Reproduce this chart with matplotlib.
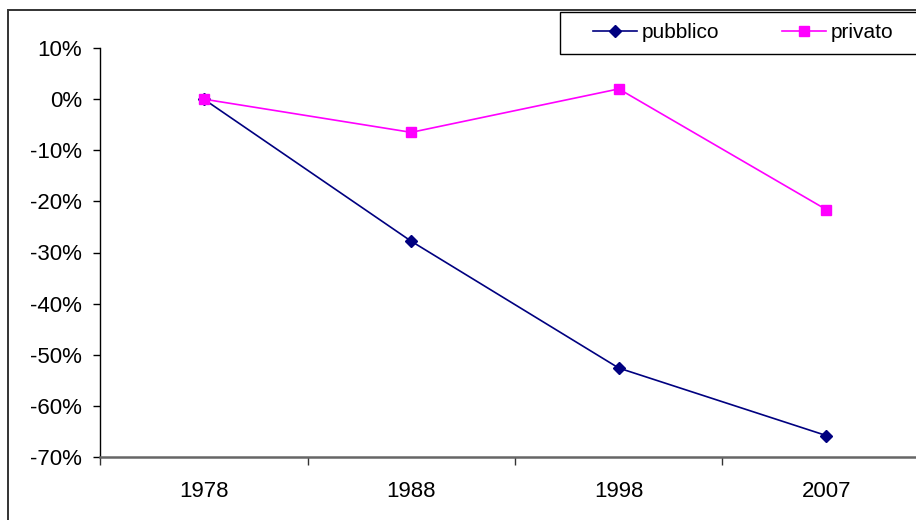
import numpy as np
import matplotlib.pyplot as plt
from matplotlib.patches import Rectangle

# Dati (variazione percentuale rispetto al 1978)
anni = ["1978", "1988", "1998", "2007"]
pubblico = [0.0, -27.8, -52.6, -65.8]
privato = [0.0, -6.5, 2.0, -21.6]

plt.rcParams['font.family'] = ['Liberation Sans', 'DejaVu Sans']

W, H = 916, 520
fig = plt.figure(figsize=(W / 100, H / 100), dpi=100)

# cornice esterna dell'area del grafico (esce dal bordo a destra e in basso)
fig.patches.append(Rectangle((8 / W, -0.1), 1.2, 1.1 - 10 / H, transform=fig.transFigure,
                             fill=False, edgecolor='#333333', linewidth=1.4, clip_on=False))

ax = fig.add_axes([100 / W, (H - 457) / H, 830 / W, (457 - 48) / H])

x = np.arange(len(anni)) + 0.5
ax.plot(x, pubblico, color='#000080', linewidth=1.2, marker='D', markersize=6,
        label='pubblico', clip_on=False)
ax.plot(x, privato, color='#FF00FF', linewidth=1.2, marker='s', markersize=6.5,
        label='privato', clip_on=False)

ax.set_xlim(0, len(anni))
ax.set_ylim(-70, 10)
ax.set_yticks(np.arange(-70, 11, 10))
ax.set_yticklabels([f"{v}%" for v in range(-70, 11, 10)])
ax.set_xticks(np.arange(len(anni) + 1))
ax.set_xticklabels([])
ax.set_xticks(x, minor=True)
ax.set_xticklabels(anni, minor=True)

ax.tick_params(axis='y', length=5, width=1, labelsize=16, pad=8, color='black')
ax.tick_params(axis='x', which='major', direction='out', length=6, width=1, color='#333333')
ax.tick_params(axis='x', which='minor', length=0, labelsize=16, pad=17)

for s in ['top', 'right']:
    ax.spines[s].set_visible(False)
ax.spines['left'].set_color('black')
ax.spines['left'].set_linewidth(1.0)
ax.spines['bottom'].set_color('#666666')
ax.spines['bottom'].set_linewidth(1.8)

# riquadro della legenda
fig.patches.append(Rectangle((560 / W, 1 - 54 / H), 0.5, 42 / H, transform=fig.transFigure,
                             fill=True, facecolor='white', edgecolor='black',
                             linewidth=1.0, clip_on=False))
leg = fig.legend(loc='center left', bbox_to_anchor=(593 / W, 1 - 33 / H), ncol=2,
                 fontsize=15, frameon=False, handlelength=2.1, columnspacing=3.0,
                 borderpad=0, handletextpad=0.25, borderaxespad=0)

fig.savefig('out.png', dpi=100)
